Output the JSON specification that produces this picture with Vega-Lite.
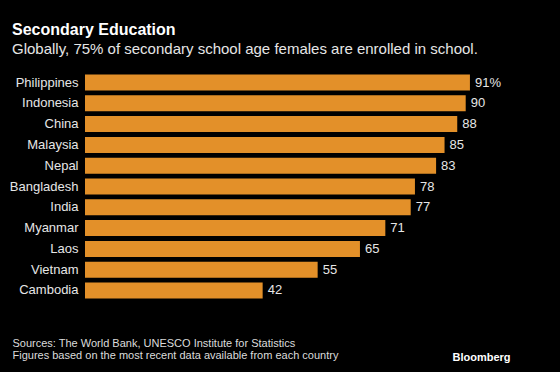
{
  "$schema": "https://vega.github.io/schema/vega-lite/v6.json",
  "width": 423,
  "height": 229,
  "autosize": {"type": "none"},
  "padding": {"left": 85, "top": 72, "right": 52, "bottom": 71},
  "background": "#000000",
  "config": {"view": {"stroke": null}, "font": "Liberation Sans"},
  "title": {
    "text": "Secondary Education",
    "subtitle": "Globally, 75% of secondary school age females are enrolled in school.",
    "anchor": "start",
    "frame": "group",
    "dx": -73,
    "color": "#ffffff",
    "subtitleColor": "#e6e6e6",
    "fontSize": 16,
    "subtitleFontSize": 15,
    "fontWeight": "bold",
    "subtitlePadding": 4,
    "offset": 15
  },
  "data": {
    "values": [
      {"country": "Philippines", "value": 91, "label": "91%"},
      {"country": "Indonesia", "value": 90, "label": "90"},
      {"country": "China", "value": 88, "label": "88"},
      {"country": "Malaysia", "value": 85, "label": "85"},
      {"country": "Nepal", "value": 83, "label": "83"},
      {"country": "Bangladesh", "value": 78, "label": "78"},
      {"country": "India", "value": 77, "label": "77"},
      {"country": "Myanmar", "value": 71, "label": "71"},
      {"country": "Laos", "value": 65, "label": "65"},
      {"country": "Vietnam", "value": 55, "label": "55"},
      {"country": "Cambodia", "value": 42, "label": "42"}
    ]
  },
  "encoding": {
    "y": {
      "field": "country",
      "type": "nominal",
      "sort": null,
      "scale": {"paddingInner": 0.23, "paddingOuter": 0.12},
      "axis": {
        "title": null,
        "domain": false,
        "ticks": false,
        "labelColor": "#e6e6e6",
        "labelFontSize": 13,
        "labelPadding": 7
      }
    }
  },
  "layer": [
    {
      "mark": {"type": "bar", "color": "#e39029"},
      "encoding": {
        "x": {
          "field": "value",
          "type": "quantitative",
          "scale": {"domain": [0, 100]},
          "axis": {
            "orient": "bottom",
            "domain": false,
            "ticks": false,
            "labels": false,
            "grid": false,
            "title": ["Sources: The World Bank, UNESCO Institute for Statistics", "Figures based on the most recent data available from each country"],
            "titleAnchor": "start",
            "titleAlign": "left",
            "titleBaseline": "alphabetic",
            "titleX": -73,
            "titleY": 45,
            "titleFontSize": 11,
            "titleFontWeight": "normal",
            "titleLineHeight": 12,
            "titleColor": "#dcdcdc"
          }
        }
      }
    },
    {
      "mark": {"type": "text", "align": "left", "baseline": "middle", "dx": 5, "fontSize": 13, "color": "#e6e6e6"},
      "encoding": {
        "x": {
          "field": "value",
          "type": "quantitative",
          "axis": {
            "orient": "top",
            "domain": false,
            "ticks": false,
            "labels": false,
            "grid": false,
            "title": "Bloomberg",
            "titleAnchor": "end",
            "titleAlign": "right",
            "titleBaseline": "alphabetic",
            "titleX": 425,
            "titleY": 288,
            "titleFontSize": 11,
            "titleFontWeight": "bold",
            "titleColor": "#ffffff"
          }
        },
        "text": {"field": "label"}
      }
    }
  ],
  "resolve": {"axis": {"x": "independent"}}
}
